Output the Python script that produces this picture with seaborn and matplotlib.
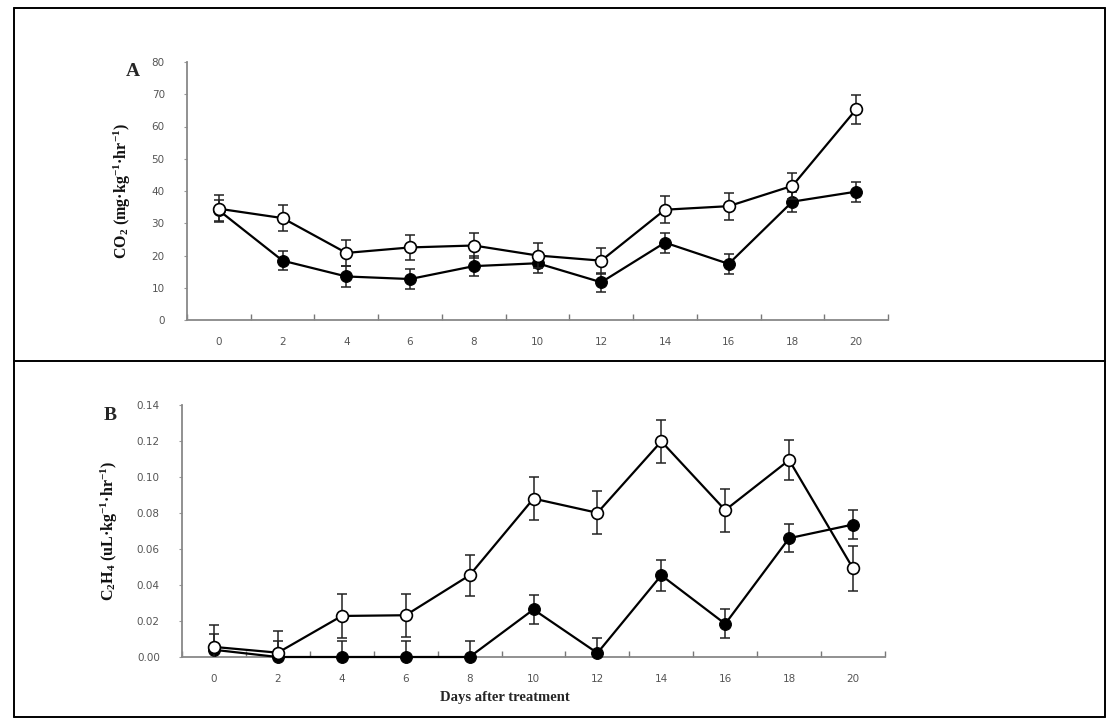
import matplotlib
matplotlib.use("Agg")
import matplotlib.pyplot as plt
from matplotlib.lines import Line2D
import seaborn as sns
import pandas as pd
import numpy as np

days = [0, 2, 4, 6, 8, 10, 12, 14, 16, 18, 20]

co2_open = [34.5, 31.6, 20.8, 22.5, 23.1, 20.0, 18.4, 34.2, 35.3, 41.6, 65.3]
co2_open_err = [4.2, 4.0, 4.0, 4.0, 4.0, 4.0, 4.0, 4.1, 4.2, 4.1, 4.4]
co2_closed = [34.0, 18.4, 13.5, 12.7, 16.7, 17.6, 11.7, 24.0, 17.4, 36.7, 39.8]
co2_closed_err = [3.3, 3.0, 3.2, 3.1, 3.0, 3.0, 3.0, 3.1, 3.0, 3.1, 3.1]

c2h4_open = [0.0056, 0.0024, 0.0228, 0.0232, 0.0454, 0.0880, 0.0801, 0.1198, 0.0816, 0.1094, 0.0492]
c2h4_open_err = [0.012, 0.012, 0.012, 0.012, 0.0115, 0.012, 0.012, 0.012, 0.012, 0.0113, 0.0124]
c2h4_closed = [0.004, 0.0, 0.0, 0.0, 0.0, 0.0264, 0.0022, 0.0454, 0.0184, 0.0660, 0.0736]
c2h4_closed_err = [0.009, 0.009, 0.009, 0.009, 0.009, 0.008, 0.0085, 0.0085, 0.008, 0.0078, 0.0078]

co2_ticks = [0, 10, 20, 30, 40, 50, 60, 70, 80]
c2h4_ticks = [0.00, 0.02, 0.04, 0.06, 0.08, 0.10, 0.12, 0.14]

sns.set_theme(style="white")
plt.rcParams['font.family'] = ['DejaVu Sans']
plt.rcParams['mathtext.fontset'] = 'custom'
plt.rcParams['mathtext.rm'] = 'Liberation Serif:bold'
plt.rcParams['mathtext.it'] = 'Liberation Serif:bold'
plt.rcParams['mathtext.bf'] = 'Liberation Serif:bold'

fig = plt.figure(figsize=(11.16, 7.21), dpi=100)
axA = fig.add_axes([187/1116, 1-320/721, (888-187)/1116, (320-62)/721])
axB = fig.add_axes([182/1116, 1-657/721, (885-182)/1116, (657-405)/721])

serif = ['Liberation Serif', 'DejaVu Serif']


def draw(ax, closed, closed_err, open_, open_err, ticks, fmt):
    df = pd.DataFrame({"day": days, "closed": closed, "open": open_})
    ax.errorbar(days, closed, yerr=closed_err, fmt='none', ecolor='#222222',
                elinewidth=1.1, capsize=3.5, capthick=1.1, zorder=2)
    sns.lineplot(data=df, x="day", y="closed", ax=ax, color='black', lw=1.6,
                 marker='o', markersize=8.5, markerfacecolor='black',
                 markeredgecolor='black', zorder=3, clip_on=False)
    ax.errorbar(days, open_, yerr=open_err, fmt='none', ecolor='#222222',
                elinewidth=1.1, capsize=3.5, capthick=1.1, zorder=4)
    sns.lineplot(data=df, x="day", y="open", ax=ax, color='black', lw=1.6,
                 marker='o', markersize=8.5, markerfacecolor='white',
                 markeredgecolor='black', markeredgewidth=1.2, zorder=5, clip_on=False)
    ax.set_xlim(-1, 21)
    ax.set_ylim(ticks[0], ticks[-1])
    ax.set_xticks(days)
    ax.set_xticklabels([str(d) for d in days])
    ax.set_xticks(list(range(-1, 22, 2)), minor=True)
    ax.set_yticks(ticks)
    ax.set_yticklabels([fmt.format(t) for t in ticks])
    ax.tick_params(axis='x', which='major', length=0, pad=12, labelsize=7.5, labelcolor='#555555')
    ax.tick_params(axis='x', which='minor', direction='in', length=4, width=1, color='#777777', bottom=True)
    ax.tick_params(axis='y', which='major', direction='out', length=2, width=0.8, color='#999999',
                   pad=14, labelsize=7.5, labelcolor='#555555', left=True)
    for s in ['top', 'right']:
        ax.spines[s].set_visible(False)
    for s in ['left', 'bottom']:
        ax.spines[s].set_color('#888888')
        ax.spines[s].set_linewidth(1.3)
    ax.set_xlabel('')


draw(axA, co2_closed, co2_closed_err, co2_open, co2_open_err, co2_ticks, "{:.0f}")
draw(axB, c2h4_closed, c2h4_closed_err, c2h4_open, c2h4_open_err, c2h4_ticks, "{:.2f}")

axA.set_ylabel('CO$_2$ (mg·kg$^{-1}$·hr$^{-1}$)',
               family=serif, fontweight='bold', fontsize=11.5, color='#111111')
axA.yaxis.set_label_coords((133-187)/701, 0.5)
axB.set_ylabel('C$_2$H$_4$ (uL·kg$^{-1}$·hr$^{-1}$)',
               family=serif, fontweight='bold', fontsize=11.5, color='#111111')
axB.yaxis.set_label_coords((120-182)/703, 0.5)

fig.text(133/1116, 1-72/721, 'A', family=serif, fontweight='bold', fontsize=14,
         ha='center', va='center')
fig.text(110/1116, 1-416/721, 'B', family=serif, fontweight='bold', fontsize=14,
         ha='center', va='center')
fig.text(505/1116, 1-697/721, 'Days after treatment', family=serif, fontweight='bold',
         fontsize=10.5, ha='center', va='center')

# table-like frame
W, H = 1116, 721
def fl(x0, y0, x1, y1):
    fig.add_artist(Line2D([x0/W, x1/W], [1-y0/H, 1-y1/H], color='black', lw=1.4,
                          transform=fig.transFigure))
fl(14, 8, 1105, 8)
fl(14, 8, 14, 717)
fl(1105, 8, 1105, 717)
fl(14, 361, 1105, 361)
fl(14, 717, 1105, 717)

fig.savefig('out.png', dpi=100)
